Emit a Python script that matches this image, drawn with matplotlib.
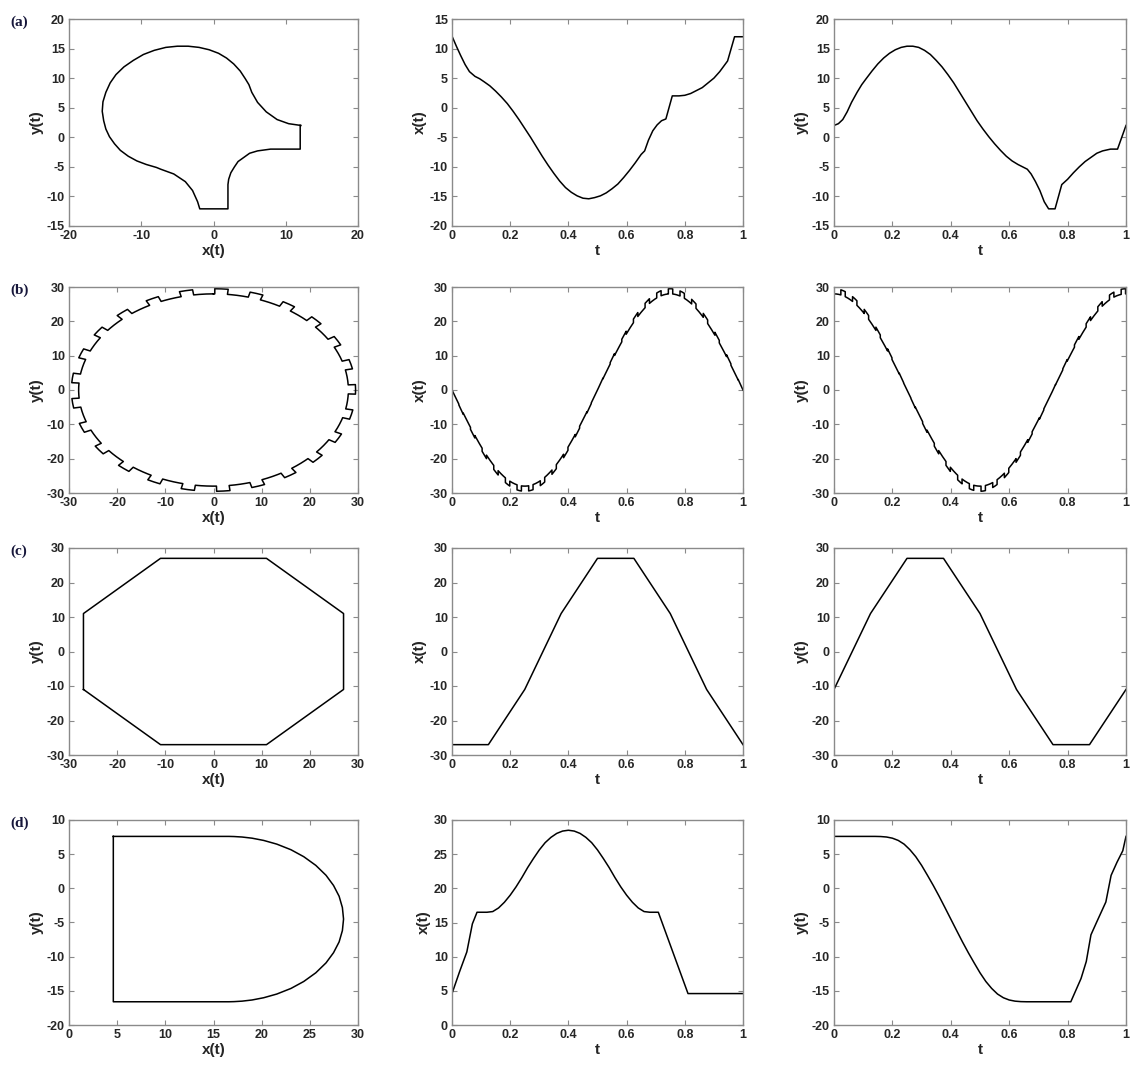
import numpy as np
import matplotlib
matplotlib.use("Agg")
import matplotlib.pyplot as plt
from matplotlib.ticker import FuncFormatter

# ---- data ----
# (a) t, x(t), y(t) knots
t_a = [0.000, 0.015, 0.030, 0.045, 0.060, 0.079, 0.095, 0.110, 0.130, 0.150, 0.170, 0.190,
       0.210, 0.230, 0.250, 0.270, 0.290, 0.310, 0.330, 0.350, 0.370, 0.390, 0.410, 0.430,
       0.450, 0.470, 0.490, 0.510, 0.530, 0.550, 0.570, 0.590, 0.610, 0.630, 0.650, 0.662,
       0.675, 0.690, 0.705, 0.720, 0.735, 0.757, 0.780, 0.800, 0.820, 0.840, 0.860, 0.880,
       0.900, 0.920, 0.947, 0.971, 1.000]
x_a = [12.1, 10.4, 8.8, 7.3, 6.1, 5.3, 4.9, 4.4, 3.7, 2.8, 1.8, 0.7,
       -0.6, -2.0, -3.5, -5.0, -6.6, -8.2, -9.7, -11.1, -12.4, -13.5, -14.3, -14.9,
       -15.3, -15.4, -15.2, -14.9, -14.4, -13.7, -12.9, -11.8, -10.6, -9.3, -7.9, -7.3,
       -5.5, -3.9, -2.9, -2.2, -1.9, 2.0, 2.0, 2.1, 2.4, 2.9, 3.4, 4.2,
       5.0, 6.1, 7.9, 12.0, 12.0]
y_a = [2.0, 2.3, 3.0, 4.3, 5.9, 7.6, 8.9, 9.9, 11.2, 12.4, 13.4, 14.2,
       14.8, 15.2, 15.4, 15.4, 15.2, 14.7, 14.0, 13.0, 11.9, 10.6, 9.2, 7.6,
       6.0, 4.4, 2.8, 1.4, 0.1, -1.1, -2.2, -3.2, -4.0, -4.6, -5.1, -5.4,
       -6.2, -7.5, -9.0, -10.9, -12.1, -12.1, -8.0, -7.1, -6.0, -5.0, -4.1, -3.4,
       -2.7, -2.3, -2.0, -2.0, 2.0]

# (b) toothed circle
gear_teeth = 25
base_radius = 28.0
tooth_radius = 29.5
tooth_width_t = 0.015
first_tooth_t = 0.031

# (c) octagon
t_c = [0, 0.125, 0.25, 0.375, 0.5, 0.625, 0.75, 0.875, 1]
x_c = [-27, -27, -11, 11, 27, 27, 11, -11, -27]
y_c = [-11, 11, 27, 27, 11, -11, -27, -27, -11]

# (d)
t_d = [0.000, 0.026, 0.051, 0.070, 0.086,
       0.120, 0.140, 0.160, 0.180, 0.200, 0.220, 0.240, 0.260, 0.280, 0.300,
       0.320, 0.340, 0.360, 0.380, 0.400, 0.420, 0.440, 0.460, 0.480, 0.500,
       0.520, 0.540, 0.560, 0.580, 0.600, 0.620, 0.640, 0.660, 0.680,
       0.709, 0.811, 0.846, 0.864, 0.880, 0.900, 0.931, 0.949, 0.969, 0.989, 1.000]
x_d = [4.6, 7.8, 10.7, 14.8, 16.5,
       16.5, 16.6, 17.13, 17.96, 19.0, 20.21, 21.57, 23.04, 24.37, 25.62,
       26.68, 27.46, 28.04, 28.38, 28.5, 28.38, 28.04, 27.46, 26.68, 25.62,
       24.37, 23.04, 21.57, 20.21, 19.0, 17.96, 17.13, 16.6, 16.5,
       16.5, 4.6, 4.6, 4.6, 4.6, 4.6, 4.6, 4.6, 4.6, 4.6, 4.6]
y_d = [7.6, 7.6, 7.6, 7.6, 7.6,
       7.6, 7.6, 7.58, 7.51, 7.34, 7.01, 6.47, 5.65, 4.63, 3.36,
       1.91, 0.42, -1.16, -2.82, -4.5, -6.18, -7.84, -9.42, -10.91, -12.36,
       -13.63, -14.65, -15.47, -16.01, -16.34, -16.51, -16.58, -16.6, -16.6,
       -16.6, -16.6, -13.2, -10.7, -6.8, -4.9, -2.0, 1.9, 3.8, 5.5, 7.6]


def gear_curve():
    pitch = 1.0 / gear_teeth
    ts, rs = [], []
    prev = 0.0
    for k in range(gear_teeth):
        c = first_tooth_t + k * pitch
        a, b = c - tooth_width_t / 2, c + tooth_width_t / 2
        seg = np.linspace(prev, a, 12)
        ts += list(seg); rs += [base_radius] * len(seg)
        seg = np.linspace(a, b, 5)
        ts += list(seg); rs += [tooth_radius] * len(seg)
        prev = b
    seg = np.linspace(prev, 1.0, 12)
    ts += list(seg); rs += [base_radius] * len(seg)
    ts = np.array(ts); rs = np.array(rs)
    ang = np.pi / 2 + 2 * np.pi * ts
    return ts, rs * np.cos(ang), rs * np.sin(ang)


t_b, x_b, y_b = gear_curve()

panels = [
    ("(a)", np.array(t_a), np.array(x_a), np.array(y_a),
     (-20, 20, 10), (-15, 20, 5), (-20, 15, 5), (-15, 20, 5)),
    ("(b)", t_b, x_b, y_b,
     (-30, 30, 10), (-30, 30, 10), (-30, 30, 10), (-30, 30, 10)),
    ("(c)", np.array(t_c), np.array(x_c), np.array(y_c),
     (-30, 30, 10), (-30, 30, 10), (-30, 30, 10), (-30, 30, 10)),
    ("(d)", np.array(t_d), np.array(x_d), np.array(y_d),
     (0, 30, 5), (-20, 10, 5), (0, 30, 5), (-20, 10, 5)),
]

W, H = 1140, 1068
plt.rcParams["font.family"] = ["Liberation Sans", "DejaVu Sans"]
fig = plt.figure(figsize=(W / 100, H / 100), dpi=100)

col_px = [(69, 358), (452, 743), (834, 1126)]
row_px = [(19, 226), (287, 493), (548, 755), (820, 1025)]

txt_col = "#262626"
spine_col = "#8a8a8a"
fmt = FuncFormatter(lambda v, p: "%g" % v)


def style(ax, xr, yr, xlabel, ylabel):
    ax.set_xlim(xr[0], xr[1])
    ax.set_ylim(yr[0], yr[1])
    ax.set_xticks(np.arange(xr[0], xr[1] + 1e-9, xr[2]))
    ax.set_yticks(np.arange(yr[0], yr[1] + 1e-9, yr[2]))
    ax.xaxis.set_major_formatter(fmt)
    ax.yaxis.set_major_formatter(fmt)
    ax.tick_params(direction="in", length=3.5, width=0.8, color=spine_col,
                   top=True, right=True, labelsize=9, labelcolor=txt_col, pad=3)
    for lab in ax.get_xticklabels() + ax.get_yticklabels():
        lab.set_fontweight("bold")
    for s in ax.spines.values():
        s.set_color(spine_col)
        s.set_linewidth(1.0)
    ax.set_xlabel(xlabel, fontsize=11, fontweight="bold", color=txt_col, labelpad=1)
    ax.set_ylabel(ylabel, fontsize=11, fontweight="bold", color=txt_col, labelpad=2)


for r, (tag, t, x, y, xs_rng, ys_rng, xt_rng, yt_rng) in enumerate(panels):
    top, bot = row_px[r]
    axes = []
    for c in range(3):
        l, rr = col_px[c]
        ax = fig.add_axes([l / W, 1 - bot / H, (rr - l) / W, (bot - top) / H])
        axes.append(ax)
    axes[0].plot(x, y, color="black", lw=1.1)
    style(axes[0], xs_rng, ys_rng, "x(t)", "y(t)")
    axes[1].plot(t, x, color="black", lw=1.1)
    style(axes[1], (0, 1, 0.2), xt_rng, "t", "x(t)")
    axes[2].plot(t, y, color="black", lw=1.1)
    style(axes[2], (0, 1, 0.2), yt_rng, "t", "y(t)")
    fig.text(10 / W, 1 - (top - 3) / H, tag, family="Liberation Serif", fontweight="bold",
             fontsize=11, color="#16163a", ha="left", va="top")

fig.savefig("out.png", dpi=100)
